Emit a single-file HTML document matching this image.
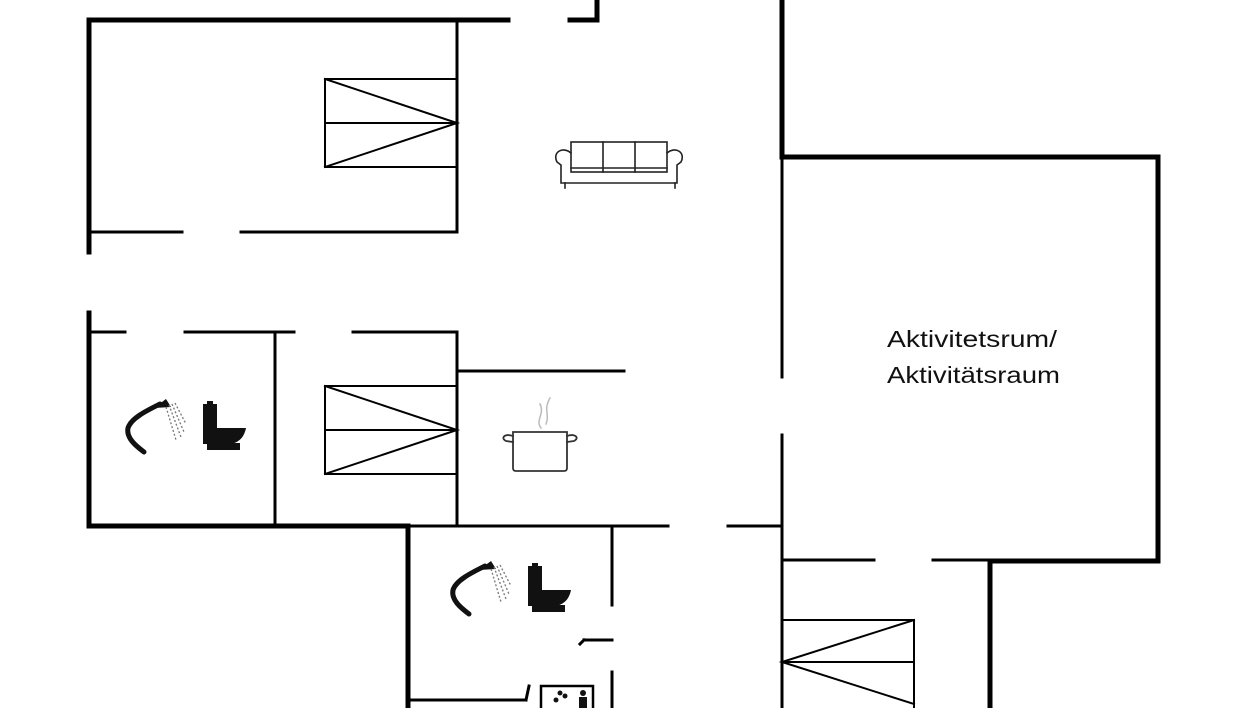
<!DOCTYPE html>
<html><head><meta charset="utf-8"><style>
html,body{margin:0;padding:0;background:#fff;}
svg{display:block;}
</style></head><body>
<svg width="1246" height="708" viewBox="0 0 1246 708" xmlns="http://www.w3.org/2000/svg">
<defs>
<g id="bath">
  <path d="M144,452 C136,446 126,438 128,428 C131,418 148,410 160,404" fill="none" stroke="#111" stroke-width="5" stroke-linecap="round"/>
  <path d="M154,408 L166,399 L171,407 Z" fill="#111"/>
  <g stroke="#777" stroke-width="1.3" stroke-dasharray="2,2" fill="none">
    <line x1="166" y1="407" x2="176" y2="440"/>
    <line x1="169" y1="405" x2="181" y2="437"/>
    <line x1="172" y1="404" x2="184" y2="432"/>
    <line x1="175" y1="403" x2="186" y2="424"/>
  </g>
  <rect x="203" y="404" width="14" height="26" fill="#111"/>
  <rect x="207" y="401" width="6" height="4" fill="#111"/>
  <path d="M203,428 L246,428 C244,438 238,443 230,444 L203,444 Z" fill="#111"/>
  <rect x="207" y="443" width="33" height="7" fill="#111"/>
</g>
</defs>
<g fill="none" stroke="#000" stroke-linecap="square">
  <g stroke-width="5">
    <line x1="89" y1="20" x2="508" y2="20"/>
    <line x1="570" y1="20" x2="597" y2="20"/>
    <line x1="597" y1="0" x2="597" y2="20"/>
    <line x1="89" y1="20" x2="89" y2="252"/>
    <line x1="89" y1="313" x2="89" y2="526"/>
    <line x1="89" y1="526" x2="408" y2="526"/>
    <line x1="408" y1="526" x2="408" y2="708"/>
    <line x1="782" y1="0" x2="782" y2="157"/>
    <line x1="782" y1="157" x2="1158" y2="157"/>
    <line x1="1158" y1="157" x2="1158" y2="561"/>
    <line x1="990" y1="561" x2="1158" y2="561"/>
    <line x1="990" y1="561" x2="990" y2="708"/>
  </g>
  <g stroke-width="3">
    <line x1="457" y1="20" x2="457" y2="232"/>
    <line x1="89" y1="232" x2="182" y2="232"/>
    <line x1="241" y1="232" x2="457" y2="232"/>
    <line x1="89" y1="332" x2="125" y2="332"/>
    <line x1="185" y1="332" x2="294" y2="332"/>
    <line x1="353" y1="332" x2="457" y2="332"/>
    <line x1="275" y1="332" x2="275" y2="526"/>
    <line x1="457" y1="332" x2="457" y2="526"/>
    <line x1="457" y1="371" x2="624" y2="371"/>
    <line x1="408" y1="526" x2="668" y2="526"/>
    <line x1="728" y1="526" x2="782" y2="526"/>
    <line x1="782" y1="157" x2="782" y2="377"/>
    <line x1="782" y1="435" x2="782" y2="708"/>
    <line x1="782" y1="560" x2="874" y2="560"/>
    <line x1="933" y1="560" x2="990" y2="560"/>
    <line x1="612" y1="526" x2="612" y2="605"/>
    <line x1="612" y1="672" x2="612" y2="708"/>
    <line x1="584" y1="640" x2="612" y2="640"/>
    <line x1="584" y1="640" x2="580" y2="644"/>
    <line x1="410" y1="700" x2="526" y2="700"/>
    <line x1="526" y1="700" x2="529" y2="686"/>
  </g>
  <g stroke-width="2">
    <rect x="325" y="79" width="132" height="88"/>
    <line x1="325" y1="123" x2="457" y2="123"/>
    <polyline points="325,79 457,123 325,167"/>
    <rect x="325" y="386" width="132" height="88"/>
    <line x1="325" y1="430" x2="457" y2="430"/>
    <polyline points="325,386 457,430 325,474"/>
    <rect x="782" y="620" width="132" height="92"/>
    <line x1="782" y1="662" x2="914" y2="662"/>
    <polyline points="914,620 782,662 914,704"/>
  </g>
  <g stroke-width="1.6" stroke="#222">
    <rect x="571" y="142" width="96" height="30"/>
    <line x1="603" y1="142" x2="603" y2="172"/>
    <line x1="635" y1="142" x2="635" y2="172"/>
    <line x1="571" y1="168" x2="667" y2="168"/>
    <path d="M571,153 C563,146 552,152 557,162 L561,165 L561,183 L677,183 L677,165 L681,162 C686,152 675,146 667,153"/>
    <line x1="565" y1="183" x2="565" y2="188"/>
    <line x1="675" y1="183" x2="675" y2="188"/>
  </g>
  <g stroke-width="1.8" stroke="#333">
    <path d="M513,432 L567,432 L567,468 C567,470 566,471 564,471 L516,471 C514,471 513,470 513,468 Z"/>
    <path d="M513,436 C505,433 500,438 506,441 L513,442"/>
    <path d="M567,436 C575,433 580,438 574,441 L567,442"/>
  </g>
  <path d="M541,428 C535,420 545,414 540,404 M546,424 C550,415 543,410 550,398" stroke="#bbb" stroke-width="1.5"/>
  <rect x="541" y="686" width="52" height="26" stroke-width="2.5"/>
</g>
<g fill="#111">
  <circle cx="560" cy="693" r="2.5"/><circle cx="565" cy="696" r="2.5"/><circle cx="556" cy="700" r="2.5"/>
  <circle cx="583" cy="693" r="3"/><rect x="579" y="697" width="8" height="12"/>
</g>
<use href="#bath"/>
<use href="#bath" transform="translate(325,162)"/>
<text x="887" y="347" font-family="Liberation Sans, sans-serif" font-size="23" fill="#111" textLength="170" lengthAdjust="spacingAndGlyphs">Aktivitetsrum/</text>
<text x="887" y="383" font-family="Liberation Sans, sans-serif" font-size="23" fill="#111" textLength="173" lengthAdjust="spacingAndGlyphs">Aktivitätsraum</text>
</svg>
</body></html>
